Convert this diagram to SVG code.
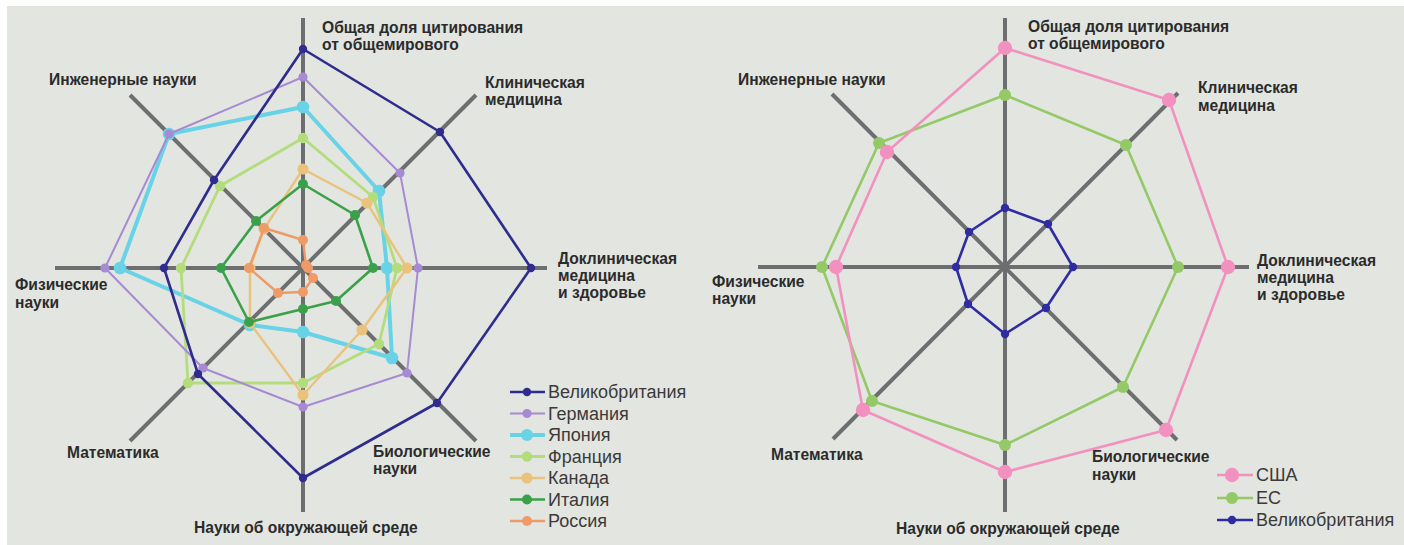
<svg xmlns="http://www.w3.org/2000/svg" width="1404" height="545" viewBox="0 0 1404 545">
<style>
.axis{stroke:#6d6e70;stroke-width:4;fill:none}
.lbl{font-family:"Liberation Sans",Arial,sans-serif;font-weight:bold;font-size:15.6px;fill:#2b2b2b}
.leg{font-family:"Liberation Sans",Arial,sans-serif;font-size:18px;fill:#3a3a3a}
.s{fill:none;stroke-linejoin:round}
.uk{stroke:#2f2c8e;stroke-width:2.6}
.de{stroke:#a68bd2;stroke-width:2}
.jp{stroke:#68d3e6;stroke-width:4}
.fr{stroke:#b3dd7c;stroke-width:2.8}
.ca{stroke:#e9c37c;stroke-width:2.4}
.it{stroke:#3aa14a;stroke-width:2.6}
.ru{stroke:#ee9b68;stroke-width:2.4}
.us{stroke:#f291bf;stroke-width:2.6}
.eu{stroke:#93c966;stroke-width:2.6}
.ukr{stroke:#2f2ca2;stroke-width:2.6}
</style>
<defs>
<marker id="dUK" viewBox="-5 -5 10 10" markerWidth="10" markerHeight="10" markerUnits="userSpaceOnUse"><circle r="4.2" fill="#2f2c8e"/></marker>
<marker id="dDE" viewBox="-5 -5 10 10" markerWidth="10" markerHeight="10" markerUnits="userSpaceOnUse"><circle r="4.6" fill="#a68bd2"/></marker>
<marker id="dJP" viewBox="-7 -7 14 14" markerWidth="14" markerHeight="14" markerUnits="userSpaceOnUse"><circle r="6.3" fill="#68d3e6"/></marker>
<marker id="dFR" viewBox="-6 -6 12 12" markerWidth="12" markerHeight="12" markerUnits="userSpaceOnUse"><circle r="5.2" fill="#b3dd7c"/></marker>
<marker id="dCA" viewBox="-6 -6 12 12" markerWidth="12" markerHeight="12" markerUnits="userSpaceOnUse"><circle r="5.6" fill="#e9c37c"/></marker>
<marker id="dIT" viewBox="-6 -6 12 12" markerWidth="12" markerHeight="12" markerUnits="userSpaceOnUse"><circle r="5" fill="#3aa14a"/></marker>
<marker id="dRU" viewBox="-6 -6 12 12" markerWidth="12" markerHeight="12" markerUnits="userSpaceOnUse"><circle r="5" fill="#ee9b68"/></marker>
<marker id="dUS" viewBox="-8 -8 16 16" markerWidth="16" markerHeight="16" markerUnits="userSpaceOnUse"><circle r="7.2" fill="#f291bf"/></marker>
<marker id="dEU" viewBox="-7 -7 14 14" markerWidth="14" markerHeight="14" markerUnits="userSpaceOnUse"><circle r="6" fill="#93c966"/></marker>
<marker id="dUKR" viewBox="-5 -5 10 10" markerWidth="10" markerHeight="10" markerUnits="userSpaceOnUse"><circle r="4.2" fill="#2f2ca2"/></marker>
</defs>
<rect width="1404" height="545" fill="#ffffff"/>
<rect x="7" y="6" width="1397" height="539" fill="#e3e5e0"/>

<g id="left-axes">
<line class="axis" x1="303" y1="18" x2="303" y2="512"/>
<line class="axis" x1="55" y1="268" x2="547" y2="268"/>
<line class="axis" x1="130" y1="95" x2="476" y2="441"/>
<line class="axis" x1="476" y1="95" x2="130" y2="441"/>
</g>
<g id="right-axes">
<line class="axis" x1="1005" y1="18" x2="1005" y2="512"/>
<line class="axis" x1="758" y1="267" x2="1249" y2="267"/>
<line class="axis" x1="832" y1="94" x2="1177" y2="440"/>
<line class="axis" x1="1178" y1="93" x2="833" y2="439"/>
</g>

<g id="connectors">
<g id="left-series">
<polygon id="s-japan" class="s jp" marker-start="url(#dJP)" marker-mid="url(#dJP)" points="303,107 379,191 387,268 392,358 303,332 250,325 120,268 169,134"/>
<polygon id="s-france" class="s fr" marker-start="url(#dFR)" marker-mid="url(#dFR)" points="303,138 373,197 397,268 379,344 303,383 188,383 181,268 220,186"/>
<polygon id="s-canada" class="s ca" marker-start="url(#dCA)" marker-mid="url(#dCA)" points="303,169 367,203 407,268 362,330 303,395 250,323 250,268 264,229"/>
<polygon id="s-germany" class="s de" marker-start="url(#dDE)" marker-mid="url(#dDE)" points="303,77 400,173 418,268 407,373 303,407 203,368 105,268 169,134"/>
<polygon id="s-italy" class="s it" marker-start="url(#dIT)" marker-mid="url(#dIT)" points="303,184 355,215 373,268 336,301 303,309 249,322 221,268 256,221"/>
<polygon id="s-russia" class="s ru" marker-start="url(#dRU)" marker-mid="url(#dRU)" points="303,240 306,265 308,268 313,278 303,292 278,293 249,268 264,228"/>
<polygon id="s-uk" class="s uk" marker-start="url(#dUK)" marker-mid="url(#dUK)" points="303,49 440,132 531,268 437,403 303,478 198,374 164,268 214,180"/>
</g>
<g id="right-series">
<polygon id="s-eu" class="s eu" marker-start="url(#dEU)" marker-mid="url(#dEU)" points="1005,95 1126,145 1178,267 1123,387 1005,445 872,401 822,267 879,143"/>
<polygon id="s-us" class="s us" marker-start="url(#dUS)" marker-mid="url(#dUS)" points="1005,48 1169,100 1228,267 1166,430 1005,472 863,410 836,267 887,152"/>
<polygon id="s-uk2" class="s ukr" marker-start="url(#dUKR)" marker-mid="url(#dUKR)" points="1005,208 1048,224 1073,267 1046,308 1005,334 968,304 956,267 969,232"/>
</g>
</g>

<g id="left-labels">
<text class="lbl" x="322" y="33">Общая доля цитирования</text>
<text class="lbl" x="322" y="50">от общемирового</text>
<text class="lbl" x="485" y="88">Клиническая</text>
<text class="lbl" x="485" y="105">медицина</text>
<text class="lbl" x="558" y="264">Доклиническая</text>
<text class="lbl" x="558" y="281">медицина</text>
<text class="lbl" x="558" y="298">и здоровье</text>
<text class="lbl" x="49" y="85">Инженерные науки</text>
<text class="lbl" x="15" y="290">Физические</text>
<text class="lbl" x="15" y="308">науки</text>
<text class="lbl" x="67" y="458">Математика</text>
<text class="lbl" x="373" y="457">Биологические</text>
<text class="lbl" x="373" y="474">науки</text>
<text class="lbl" x="194" y="533">Науки об окружающей среде</text>
</g>
<g id="right-labels">
<text class="lbl" x="1028" y="32">Общая доля цитирования</text>
<text class="lbl" x="1028" y="49">от общемирового</text>
<text class="lbl" x="1198" y="93">Клиническая</text>
<text class="lbl" x="1198" y="111">медицина</text>
<text class="lbl" x="1257" y="266">Доклиническая</text>
<text class="lbl" x="1257" y="283">медицина</text>
<text class="lbl" x="1257" y="300">и здоровье</text>
<text class="lbl" x="738" y="85">Инженерные науки</text>
<text class="lbl" x="712" y="287">Физические</text>
<text class="lbl" x="712" y="304">науки</text>
<text class="lbl" x="771" y="460">Математика</text>
<text class="lbl" x="1092" y="462">Биологические</text>
<text class="lbl" x="1092" y="480">науки</text>
<text class="lbl" x="896" y="534">Науки об окружающей среде</text>
</g>

<g id="legend-left">
<g id="leg-uk"><line class="uk" x1="510" y1="392" x2="545" y2="392"/><circle cx="527" cy="392" r="4.2" fill="#2f2c8e"/><text class="leg" x="548" y="398">Великобритания</text></g>
<g id="leg-de"><line class="de" x1="510" y1="413.5" x2="545" y2="413.5"/><circle cx="527" cy="413.5" r="4.6" fill="#a68bd2"/><text class="leg" x="548" y="419.5">Германия</text></g>
<g id="leg-jp"><line class="jp" x1="510" y1="435" x2="545" y2="435"/><circle cx="527" cy="435" r="6" fill="#68d3e6"/><text class="leg" x="548" y="441">Япония</text></g>
<g id="leg-fr"><line class="fr" x1="510" y1="456.5" x2="545" y2="456.5"/><circle cx="527" cy="456.5" r="5.2" fill="#b3dd7c"/><text class="leg" x="548" y="462.5">Франция</text></g>
<g id="leg-ca"><line class="ca" x1="510" y1="478" x2="545" y2="478"/><circle cx="527" cy="478" r="5.6" fill="#e9c37c"/><text class="leg" x="548" y="484">Канада</text></g>
<g id="leg-it"><line class="it" x1="510" y1="499.5" x2="545" y2="499.5"/><circle cx="527" cy="499.5" r="5" fill="#3aa14a"/><text class="leg" x="548" y="505.5">Италия</text></g>
<g id="leg-ru"><line class="ru" x1="510" y1="521" x2="545" y2="521"/><circle cx="527" cy="521" r="5" fill="#ee9b68"/><text class="leg" x="548" y="527">Россия</text></g>
</g>
<g id="legend-right">
<g id="leg-us"><line class="us" x1="1217" y1="475" x2="1253" y2="475"/><circle cx="1232" cy="475" r="7.2" fill="#f291bf"/><text class="leg" x="1256" y="481">США</text></g>
<g id="leg-eu"><line class="eu" x1="1217" y1="498" x2="1253" y2="498"/><circle cx="1232" cy="498" r="6" fill="#93c966"/><text class="leg" x="1256" y="504">ЕС</text></g>
<g id="leg-uk2"><line class="ukr" x1="1217" y1="520" x2="1253" y2="520"/><circle cx="1232" cy="520" r="4.2" fill="#2f2ca2"/><text class="leg" x="1256" y="526">Великобритания</text></g>
</g>
</svg>
